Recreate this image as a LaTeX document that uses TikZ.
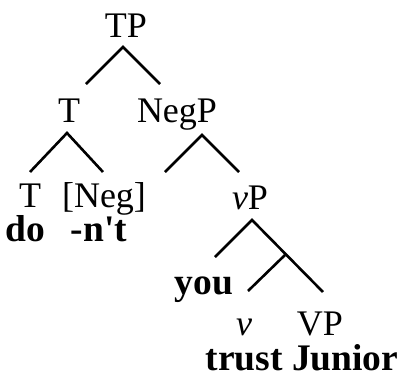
\documentclass[tikz,border=0pt]{standalone}
\usepackage{fontspec}
\setmainfont{Liberation Serif}[Ligatures=TeXOff]
\begin{document}
\begin{tikzpicture}[x=1pt,y=-1pt,
  lbl/.style={anchor=base,inner sep=0pt,font=\fontsize{36}{40}\selectfont},
  word/.style={lbl,font=\fontsize{37.5}{40}\selectfont\bfseries},
  branch/.style={line width=2.6pt}]
\useasboundingbox (0,0) rectangle (400,383);
% labels
\node[lbl]  (tp)   at (126,37)  {TP};
\node[lbl]  (t1)   at (69,122)  {T};
\node[lbl]  (negp) at (177,122) {NegP};
\node[lbl]  (t2)   at (30,207)  {T};
\node[lbl]  (neg)  at (104,207) {[Neg]};
\node[word] (do)   at (25,241)  {do};
\node[word] (nt)   at (99,241)  {-n't};
\node[lbl]  (vp)   at (250,209) {\textit{v}P};
\node[word] (you)  at (204,294) {you};
\node[lbl]  (v)    at (244,335) {\textit{v}};
\node[lbl]  (VP)   at (320,335) {VP};
\node[word] (tj)   at (302,370) {trust Junior};
% branch points
\coordinate (a0) at (123,47);  \coordinate (a1) at (86,84);   \coordinate (a2) at (160,84);
\coordinate (b0) at (67,133);  \coordinate (b1) at (30,172);  \coordinate (b2) at (103,172);
\coordinate (c0) at (202,135); \coordinate (c1) at (165,172); \coordinate (c2) at (239,172);
\coordinate (d0) at (252,220); \coordinate (d1) at (215,257); \coordinate (d2) at (323,292);
\coordinate (e0) at (285,255); \coordinate (e1) at (248,291);
% branches
\draw[branch] (a1) -- (a0) -- (a2);
\draw[branch] (b1) -- (b0) -- (b2);
\draw[branch] (c1) -- (c0) -- (c2);
\draw[branch] (d1) -- (d0) -- (d2);
\draw[branch] (e1) -- (e0);
\end{tikzpicture}
\end{document}
